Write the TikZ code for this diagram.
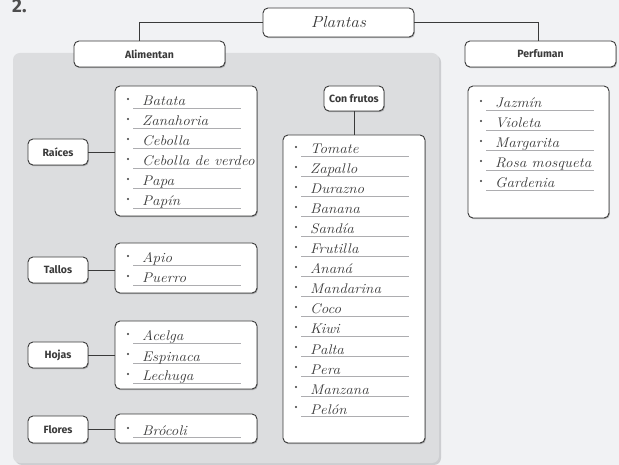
\documentclass[tikz,border=0pt]{standalone}
\usepackage{fontspec}
\setsansfont{Fira Sans}
\newfontfamily\cursivefam{Latin Modern Roman}[FakeStretch=1.08]
\usetikzlibrary{shadows}
\definecolor{bg}{HTML}{F1F2F4}
\definecolor{panelc}{HTML}{DCDDDF}
\definecolor{panelsh}{HTML}{CDCED1}
\definecolor{ink}{HTML}{3A3A3A}
\definecolor{linec}{HTML}{ADADB0}
\newcommand{\blist}[4]{%
  \foreach \t [count=\i from 0] in {#3} {%
    \pgfmathsetmacro{\uy}{#2+20*\i}%
    \fill[ink] (#1+13,\uy-9) circle (1.1pt);
    \draw[uline] (#1+18,\uy) -- (#1+126,\uy);
    \node[item, anchor=base west] (#4\i) at (#1+27,\uy-2) {\t};
  }}
\begin{document}
\begin{tikzpicture}[x=1pt,y=-1pt,
  box/.style={draw=ink, line width=0.9pt, fill=white, rounded corners=5pt,
    drop shadow={shadow xshift=0.8pt, shadow yshift=-1.2pt, fill=black, opacity=0.25}},
  hdr/.style={box, font=\sffamily\bfseries\fontsize{10.5}{12}\selectfont, text=ink, inner sep=0pt},
  listbox/.style={box, inner sep=0pt},
  conn/.style={draw=ink, line width=0.9pt},
  uline/.style={draw=linec, line width=0.8pt},
  item/.style={font=\cursivefam\itshape\fontsize{14}{16}\selectfont, text=ink, inner sep=0pt}]
\useasboundingbox (0,0) rectangle (619,465);
\fill[bg] (0,0) rectangle (619,465);
% panel
\fill[panelsh, rounded corners=7pt] (15,55) rectangle (441,465);
\fill[panelc, rounded corners=7pt] (13,53) rectangle (439,463);
% number
\node[font=\sffamily\bfseries\fontsize{19}{20}\selectfont, text=ink!90, anchor=base west, inner sep=0pt] (num) at (12,13) {2.};
% top level
\node[hdr, minimum width=151pt, minimum height=29pt, font=\cursivefam\itshape\fontsize{16}{18}\selectfont] (plantas) at (338.5,22.5) {Plantas};
\node[hdr, minimum width=151pt, minimum height=26pt] (alim) at (149.5,54) {Alimentan};
\node[hdr, minimum width=151pt, minimum height=26pt] (perf) at (540.5,54) {Perfuman};
\draw[conn] (plantas.west) -| ([xshift=-10.5pt]alim.north);
\draw[conn] (plantas.east) -| ([xshift=-2.5pt]perf.north);
% categories
\node[hdr, minimum width=60pt, minimum height=26pt] (raices) at (58,152) {Raíces};
\node[listbox, minimum width=142pt, minimum height=130pt] (raicesL) at (186,151) {};
\draw[conn] (raices.east) -- (raices.east -| raicesL.west);
\node[hdr, minimum width=60pt, minimum height=26pt] (tallos) at (58,270) {Tallos};
\node[listbox, minimum width=142pt, minimum height=50pt] (tallosL) at (186,268) {};
\draw[conn] (tallos.east) -- (tallos.east -| tallosL.west);
\node[hdr, minimum width=60pt, minimum height=26pt] (hojas) at (58,355) {Hojas};
\node[listbox, minimum width=142pt, minimum height=68pt] (hojasL) at (186,355) {};
\draw[conn] (hojas.east) -- (hojas.east -| hojasL.west);
\node[hdr, minimum width=60pt, minimum height=27pt] (flores) at (58,429.5) {Flores};
\node[listbox, minimum width=142pt, minimum height=29pt] (floresL) at (186,428.5) {};
\draw[conn] (flores.east) -- (flores.east -| floresL.west);
\node[hdr, minimum width=60pt, minimum height=25pt] (frutos) at (354,98.5) {Con frutos};
\node[listbox, minimum width=142pt, minimum height=308pt] (frutosL) at (354,289) {};
\draw[conn] (frutos.south) -- (frutosL.north);
\node[listbox, minimum width=141pt, minimum height=132pt] (perfL) at (538.5,152) {};
% items
\blist{115}{108}{Batata,Zanahoria,Cebolla,Cebolla de verdeo,Papa,Papín}{ra}
\blist{115}{265}{Apio,Puerro}{ta}
\blist{115}{343}{Acelga,Espinaca,Lechuga}{ho}
\blist{115}{437}{Brócoli}{fl}
\blist{283}{156}{Tomate,Zapallo,Durazno,Banana,Sandía,Frutilla,Ananá,Mandarina,Coco,Kiwi,Palta,Pera,Manzana,Pelón}{fr}
\blist{468}{110}{Jazmín,Violeta,Margarita,Rosa mosqueta,Gardenia}{pe}
\end{tikzpicture}
\end{document}
